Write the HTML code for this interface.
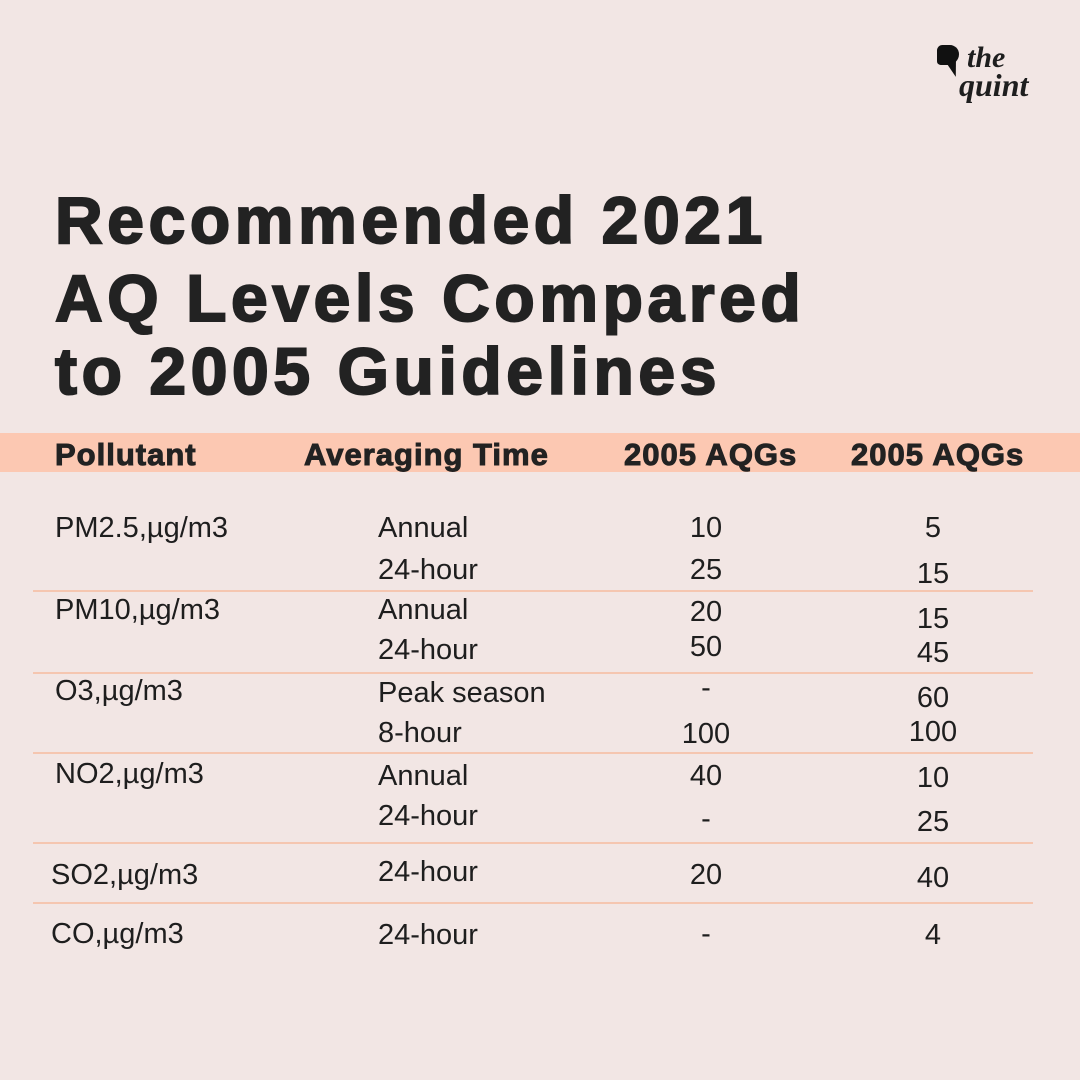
<!DOCTYPE html>
<html><head><meta charset="utf-8">
<style>
html,body{margin:0;padding:0}
body{width:1080px;height:1080px;background:#f2e6e4;position:relative;overflow:hidden;font-family:"Liberation Sans",sans-serif;color:#1e1e1e}
.t{position:absolute;white-space:nowrap}
.title{left:55px;font-size:66px;font-weight:bold;letter-spacing:4.6px;-webkit-text-stroke:2px #222;color:#222;line-height:1}
.band{position:absolute;left:0;top:433px;width:1080px;height:39px;background:#fcc8b2}
.h{font-size:31px;font-weight:bold;-webkit-text-stroke:1px #222;color:#222;top:437px;letter-spacing:1px}
.c{font-size:29px;line-height:1}
.ctr{transform:translateX(-50%)}
.line{position:absolute;left:33px;width:1000px;height:2px;background:#f5c6b0}
</style></head><body>
<div style="position:absolute;left:935px;top:43px;width:110px;height:70px">
  <div style="position:absolute;left:2px;top:2px;width:22px;height:20px;background:#111;border-radius:6px 10px 12px 4px"></div>
  <div style="position:absolute;left:14px;top:18px;width:0;height:0;border-left:4px solid transparent;border-right:6px solid transparent;border-top:16px solid #111;transform:rotate(-20deg)"></div>
  <div class="t" style="left:32px;top:0px;font-family:'Liberation Serif',serif;font-style:italic;font-weight:bold;font-size:30px;line-height:1">the</div>
  <div class="t" style="left:24px;top:26px;font-family:'Liberation Serif',serif;font-style:italic;font-weight:bold;font-size:32px;line-height:1">quint</div>
</div>

<div class="t title" style="top:187px">Recommended 2021</div>
<div class="t title" style="top:265px">AQ Levels Compared</div>
<div class="t title" style="top:338px">to 2005 Guidelines</div>

<div class="band"></div>
<div class="t h" style="left:55px">Pollutant</div>
<div class="t h" style="left:304px">Averaging Time</div>
<div class="t h" style="left:624px">2005 AQGs</div>
<div class="t h" style="left:851px">2005 AQGs</div>

<div class="line" style="top:590px"></div>
<div class="line" style="top:672px"></div>
<div class="line" style="top:752px"></div>
<div class="line" style="top:842px"></div>
<div class="line" style="top:902px"></div>

<div class="t c" style="left:55px;top:514px">PM2.5,µg/m3</div>
<div class="t c" style="left:55px;top:596px">PM10,µg/m3</div>
<div class="t c" style="left:55px;top:677px">O3,µg/m3</div>
<div class="t c" style="left:55px;top:760px">NO2,µg/m3</div>
<div class="t c" style="left:51px;top:861px">SO2,µg/m3</div>
<div class="t c" style="left:51px;top:920px">CO,µg/m3</div>

<div class="t c" style="left:378px;top:514px">Annual</div>
<div class="t c" style="left:378px;top:556px">24-hour</div>
<div class="t c" style="left:378px;top:596px">Annual</div>
<div class="t c" style="left:378px;top:636px">24-hour</div>
<div class="t c" style="left:378px;top:679px">Peak season</div>
<div class="t c" style="left:378px;top:719px">8-hour</div>
<div class="t c" style="left:378px;top:762px">Annual</div>
<div class="t c" style="left:378px;top:802px">24-hour</div>
<div class="t c" style="left:378px;top:858px">24-hour</div>
<div class="t c" style="left:378px;top:921px">24-hour</div>

<div class="t c ctr" style="left:706px;top:514px">10</div>
<div class="t c ctr" style="left:706px;top:556px">25</div>
<div class="t c ctr" style="left:706px;top:598px">20</div>
<div class="t c ctr" style="left:706px;top:633px">50</div>
<div class="t c ctr" style="left:706px;top:674px">-</div>
<div class="t c ctr" style="left:706px;top:720px">100</div>
<div class="t c ctr" style="left:706px;top:762px">40</div>
<div class="t c ctr" style="left:706px;top:805px">-</div>
<div class="t c ctr" style="left:706px;top:861px">20</div>
<div class="t c ctr" style="left:706px;top:920px">-</div>

<div class="t c ctr" style="left:933px;top:514px">5</div>
<div class="t c ctr" style="left:933px;top:560px">15</div>
<div class="t c ctr" style="left:933px;top:605px">15</div>
<div class="t c ctr" style="left:933px;top:639px">45</div>
<div class="t c ctr" style="left:933px;top:684px">60</div>
<div class="t c ctr" style="left:933px;top:718px">100</div>
<div class="t c ctr" style="left:933px;top:764px">10</div>
<div class="t c ctr" style="left:933px;top:808px">25</div>
<div class="t c ctr" style="left:933px;top:864px">40</div>
<div class="t c ctr" style="left:933px;top:921px">4</div>
</body></html>
